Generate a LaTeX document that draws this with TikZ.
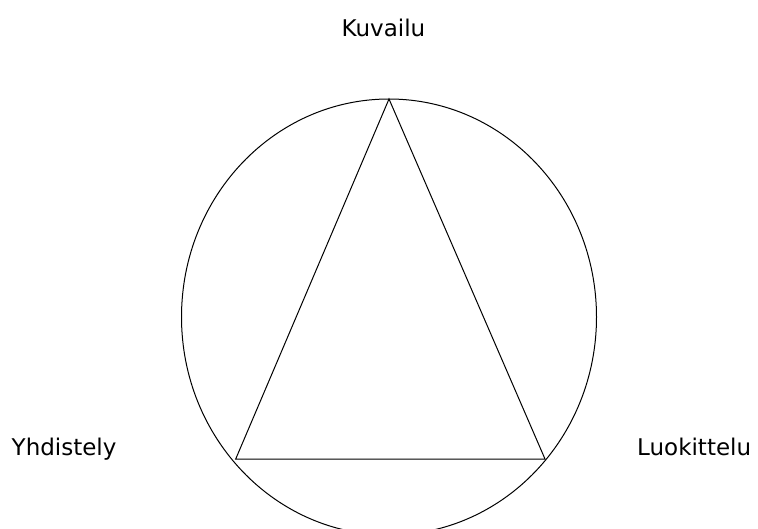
\documentclass[tikz,border=0pt]{standalone}
\usepackage{fontspec}
\setmainfont{DejaVu Sans}
\usetikzlibrary{shapes.geometric}
\begin{document}
\begin{tikzpicture}[x=1pt,y=-1pt,
  lbl/.style={anchor=base west,inner sep=0pt,font=\fontsize{23}{27}\selectfont},
  ln/.style={line width=1pt,black}]
\useasboundingbox (0,0) rectangle (758,529);
\begin{scope}
\clip (0,0) rectangle (758,529);
\node[ellipse,draw,ln,minimum width=415pt,minimum height=436pt,inner sep=0pt] (circ) at (389,317) {};
\end{scope}
\coordinate (top) at (389,99);
\coordinate (bl) at (235.7,459);
\coordinate (br) at (545,459);
\draw[ln,line join=miter] (top) -- (bl) -- (br) -- cycle;
\node[lbl] (kuv) at (341.5,36.5) {Kuvailu};
\node[lbl] (yhd) at (11.5,455.5) {Yhdistely};
\node[lbl] (luo) at (637,455.5) {Luokittelu};
\end{tikzpicture}
\end{document}
